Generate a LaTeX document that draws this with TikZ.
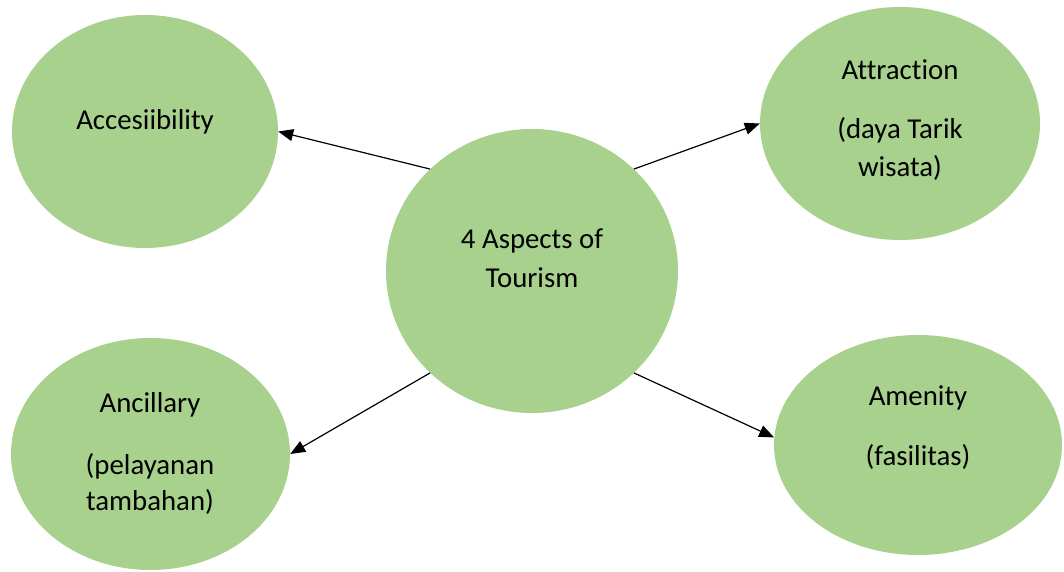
\documentclass[tikz,border=0pt]{standalone}
\usepackage{fontspec}
\setmainfont[Ligatures=NoCommon]{Carlito}
\usetikzlibrary{shapes.geometric,arrows.meta}
\definecolor{leaf}{HTML}{A9D18E}
\begin{document}
\begin{tikzpicture}[x=1pt,y=1pt,
  bubble/.style={ellipse,fill=leaf,draw=none,inner sep=0pt},
  lbl/.style={anchor=base,inner sep=0pt,font=\fontsize{28.8}{37}\selectfont},
  arr/.style={line width=1.2pt,-{Triangle[length=15pt,width=12pt]}}]
\useasboundingbox (0,0) rectangle (1064,572);
% shapes
\node[bubble,minimum width=292pt,minimum height=284pt] (c) at (532,301) {};
\node[bubble,minimum width=266pt,minimum height=233pt] (acc) at (145,440.5) {};
\node[bubble,minimum width=280pt,minimum height=233pt] (attr) at (900,448.5) {};
\node[bubble,minimum width=279pt,minimum height=232pt] (anc) at (150.5,118) {};
\node[bubble,minimum width=288pt,minimum height=220pt] (amen) at (918,127) {};
% texts
\node[lbl] (c1) at (532,323) {4 Aspects of};
\node[lbl] (c2) at (532,284) {Tourism};
\node[lbl] (acc1) at (145,442.5) {Accesiibility};
\node[lbl] (attr1) at (900,492) {Attraction};
\node[lbl] (attr2) at (900,433) {(daya Tarik};
\node[lbl] (attr3) at (900,395.5) {wisata)};
\node[lbl] (anc1) at (150,159.5) {Ancillary};
\node[lbl] (anc2) at (150,97) {(pelayanan};
\node[lbl] (anc3) at (150,61.5) {tambahan)};
\node[lbl] (amen1) at (918,166) {Amenity};
\node[lbl] (amen2) at (918,106) {(fasilitas)};
% connectors
\draw[arr] (c.135) -- (acc.east);
\draw[arr] (c.45) -- (attr.west);
\draw[arr] (c.225) -- (anc.east);
\draw[arr] (c.315) -- (amen.177);
\end{tikzpicture}
\end{document}
